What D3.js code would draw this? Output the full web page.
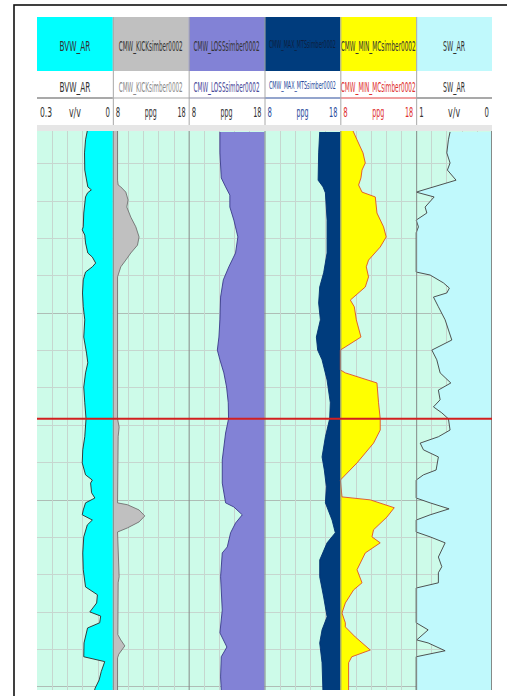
<!DOCTYPE html>
<html>
<head>
<meta charset="utf-8">
<script src="https://cdn.jsdelivr.net/npm/d3@7"></script>
<style>
body{margin:0;background:#fff}
svg{display:block}
text{font-family:"DejaVu Sans Condensed","Liberation Sans Narrow","Liberation Sans",sans-serif}
</style>
</head>
<body>
<svg id="chart" width="507" height="696"></svg>
<script>
// curve names, units, scale ends
var curveNames=["BVW_AR","CMW_KICKsimber0002","CMW_LOSSsimber0002","CMW_MAX_MTSsimber0002","CMW_MIN_MCsimber0002","SW_AR"];
var unitLabels=["v/v","ppg","ppg","ppg","ppg","v/v"];
var scaleLeft=[0.3,8,8,8,8,1];
var scaleRight=[0,18,18,18,18,0];
var leftLabels=["0.3","8","8","8","8","1"];
var rightLabels=["0","18","18","18","18","0"];
var depthRange=[1500,1651];
var markerDepth=1578.4;

// [depth, value]
var bvwAr=[[1501.3,0.101],[1503.7,0.108],[1507.2,0.112],[1511.8,0.111],[1516.3,0.099],[1517.1,0.085],[1517.9,0.100],[1519.0,0.108],[1523.3,0.115],[1527.0,0.117],[1527.8,0.121],[1529.2,0.111],[1531.3,0.108],[1534.0,0.099],[1535.1,0.081],[1536.7,0.068],[1537.7,0.081],[1539.1,0.108],[1541.2,0.117],[1544.7,0.120],[1548.4,0.117],[1551.9,0.111],[1556.5,0.115],[1560.8,0.104],[1563.4,0.099],[1566.1,0.108],[1569.9,0.115],[1574.1,0.111],[1578.4,0.106],[1583.2,0.111],[1586.7,0.119],[1590.2,0.121],[1593.4,0.108],[1594.8,0.081],[1595.6,0.088],[1598.2,0.084],[1599.6,0.071],[1600.9,0.108],[1602.8,0.117],[1604.1,0.121],[1605.5,0.081],[1606.8,0.101],[1610.0,0.115],[1614.3,0.119],[1618.8,0.117],[1623.4,0.108],[1625.5,0.061],[1627.7,0.064],[1630.1,0.091],[1631.2,0.048],[1633.0,0.052],[1634.4,0.100],[1638.4,0.114],[1642.1,0.115],[1643.4,0.032],[1646.1,0.046],[1648.3,0.054],[1650.5,0.070],[1651.0,0.072]];
var cmwKick=[[1501.3,8.62],[1514.5,8.62],[1515.8,8.70],[1516.3,9.05],[1517.7,9.71],[1519.8,10.01],[1521.7,9.84],[1524.4,10.37],[1527.0,11.03],[1529.7,11.46],[1531.9,11.25],[1534.0,10.37],[1535.9,9.71],[1537.7,9.05],[1540.4,8.62],[1578.4,8.62],[1580.6,8.83],[1583.2,8.70],[1600.9,8.62],[1601.4,9.93],[1602.8,11.46],[1604.4,12.21],[1606.0,11.46],[1607.6,9.93],[1608.7,8.62],[1620.7,8.83],[1622.3,8.70],[1636.2,8.66],[1637.6,9.05],[1639.2,9.58],[1641.4,8.79],[1642.4,8.62],[1651.0,8.62]];
var cmwLoss=[[1501.6,12.12],[1507.2,12.12],[1513.9,12.30],[1516.3,12.87],[1518.5,13.43],[1521.7,13.43],[1525.2,13.96],[1529.7,14.49],[1534.0,14.18],[1537.7,13.30],[1541.2,12.57],[1545.8,12.21],[1551.9,12.12],[1556.5,11.99],[1560.0,11.78],[1562.6,12.12],[1566.1,12.64],[1569.9,13.00],[1574.1,13.22],[1578.4,13.26],[1582.2,12.87],[1589.4,12.43],[1595.6,12.43],[1600.9,12.87],[1602.0,13.96],[1604.1,15.07],[1606.3,14.18],[1608.9,13.53],[1612.7,13.09],[1614.3,12.43],[1620.7,12.21],[1629.6,12.43],[1635.7,12.12],[1639.5,13.04],[1642.1,12.30],[1647.5,12.21],[1651.0,12.30]];
var cmwMax=[[1501.6,15.28],[1507.2,15.14],[1514.5,15.07],[1516.3,15.72],[1517.9,16.03],[1525.2,16.25],[1534.0,16.25],[1539.3,15.80],[1543.1,15.28],[1547.4,15.14],[1551.9,15.37],[1556.5,14.84],[1560.0,15.01],[1562.6,15.59],[1568.0,16.25],[1574.1,16.68],[1578.4,16.59],[1583.2,16.03],[1588.6,15.59],[1592.1,15.89],[1596.6,16.16],[1600.9,16.03],[1605.5,16.91],[1608.9,17.34],[1611.6,16.25],[1616.2,15.28],[1620.7,15.28],[1626.1,15.80],[1631.4,16.25],[1634.9,15.59],[1638.4,15.28],[1643.7,15.59],[1651.0,15.70]];
var cmwMin=[[1501.3,9.67],[1503.7,10.20],[1505.6,10.63],[1507.2,10.99],[1509.9,11.29],[1511.8,10.86],[1513.9,10.72],[1515.8,10.41],[1517.7,10.86],[1519.0,12.61],[1523.3,12.83],[1527.0,13.70],[1529.7,14.05],[1532.4,13.26],[1535.9,11.72],[1537.7,11.42],[1540.4,11.72],[1543.1,11.29],[1546.6,9.32],[1548.4,9.84],[1551.9,10.11],[1556.5,10.72],[1560.0,8.00],[1565.3,8.00],[1566.1,8.66],[1568.8,12.83],[1574.1,13.04],[1578.4,13.26],[1581.4,13.26],[1584.9,12.38],[1590.2,10.20],[1594.8,8.00],[1599.3,8.22],[1600.1,11.95],[1602.2,15.11],[1604.7,14.14],[1608.1,12.38],[1610.0,12.17],[1611.6,13.26],[1614.3,11.29],[1618.8,10.20],[1622.3,10.86],[1624.2,9.75],[1627.7,8.66],[1630.4,8.22],[1633.0,8.66],[1634.1,8.66],[1636.8,9.97],[1640.3,11.95],[1642.1,9.51],[1643.7,9.09],[1651.0,9.09]];
var swAr=[[1501.6,0.553],[1503.7,0.575],[1507.2,0.596],[1509.9,0.553],[1511.8,0.588],[1514.5,0.474],[1517.7,1.000],[1519.0,0.763],[1521.7,0.882],[1523.3,0.859],[1525.2,1.000],[1527.0,0.970],[1528.6,1.000],[1539.1,1.000],[1539.9,0.816],[1542.0,0.641],[1543.4,0.562],[1544.7,0.596],[1545.8,0.772],[1548.4,0.707],[1551.9,0.618],[1557.3,0.530],[1560.0,0.793],[1562.6,0.728],[1566.1,0.684],[1568.8,0.543],[1570.7,0.707],[1573.3,0.684],[1575.2,0.772],[1576.8,0.662],[1578.4,0.575],[1581.4,0.553],[1583.2,0.707],[1584.9,0.947],[1586.7,0.904],[1588.6,0.707],[1592.1,0.737],[1593.4,0.904],[1594.8,1.000],[1599.6,1.000],[1600.9,0.816],[1602.5,0.566],[1604.1,0.816],[1605.5,1.000],[1608.7,1.000],[1610.0,0.816],[1611.6,0.618],[1615.4,0.707],[1618.0,0.662],[1619.6,0.707],[1622.3,0.707],[1623.7,1.000],[1633.0,1.000],[1634.9,0.842],[1637.6,0.993],[1638.4,0.842],[1640.5,0.618],[1642.1,1.000],[1651.0,1.000]];

var curves=[bvwAr,cmwKick,cmwLoss,cmwMax,cmwMin,swAr];

// styling per track
var headFill=["#00ffff","#c0c0c0","#8282d6","#003c7d","#ffff00","#c0f9fc"];
var areaFill=["#00ffff","#c0c0c0","#8282d6","#003c7d","#ffff00","#c0f9fc"];
var lineColor=["#2a2a2a","#707070","#3a3a8a","#003070","#e0502a","#404040"];
var nameColor=["#333","#8a8a8a","#4a4a9a","#2a4c9c","#e03030","#333"];
var scaleColor=["#333","#333","#333","#2a4c9c","#e03030","#333"];
var ruleColor=["#555","#aaa","#8a8aa8","#2a4c9c","#e04040","#555"];
var fillSide=["right","left","right","right","left","right"];
var nameSize=[14,14,14,10,14,14];
var nameWidth=[31,64,66,67,75,22];

var svg=d3.select("#chart");
var plotTop=131, plotBottom=690;

var tracks=d3.scaleBand().domain(d3.range(6)).range([37,492]);
var bw=tracks.bandwidth();
var y=d3.scaleLinear().domain(depthRange).range([126,690]);

// squeeze a text horizontally to a given width (narrow header font look)
function squeeze(sel,x,yy,w){
  sel.each(function(d,i){
    var n=this.getComputedTextLength();
    var s=n>0?w(d)/n:1;
    d3.select(this).attr("transform","translate("+x(d)+","+yy(d)+") scale("+s+",1)");
  });
}

// outer frame
svg.append("rect").attr("x",14).attr("y",5).attr("width",520).attr("height",720)
  .attr("fill","none").attr("stroke","#111").attr("stroke-width",1.6);

// header rows
var head=svg.append("g");
head.selectAll("rect.h1").data(d3.range(6)).enter().append("rect")
  .attr("x",function(i){return tracks(i)}).attr("y",17).attr("width",bw).attr("height",54)
  .attr("fill",function(i){return headFill[i]});

var n1=head.selectAll("text.n1").data(d3.range(6)).enter().append("text")
  .attr("text-anchor","middle").attr("font-size",function(i){return nameSize[i]})
  .attr("fill",function(i){return i==3?"#0d1f40":"#333"})
  .text(function(i){return curveNames[i]});
squeeze(n1,function(i){return tracks(i)+bw/2},function(i){return nameSize[i]<12?48:51},function(i){return nameWidth[i]});

var n2=head.selectAll("text.n2").data(d3.range(6)).enter().append("text")
  .attr("text-anchor","middle").attr("font-size",function(i){return nameSize[i]})
  .attr("fill",function(i){return nameColor[i]})
  .text(function(i){return curveNames[i]});
squeeze(n2,function(i){return tracks(i)+bw/2},function(i){return nameSize[i]<12?89:92},function(i){return nameWidth[i]});

head.selectAll("line.rule").data(d3.range(6)).enter().append("line")
  .attr("x1",function(i){return tracks(i)}).attr("x2",function(i){return tracks(i)+bw})
  .attr("y1",98).attr("y2",98).attr("stroke",function(i){return ruleColor[i]}).attr("stroke-width",1.2);

function labelW(s){return s.length*3.9+0.5}
var tl=head.selectAll("text.l").data(d3.range(6)).enter().append("text")
  .attr("font-size",14)
  .attr("fill",function(i){return scaleColor[i]}).text(function(i){return leftLabels[i]});
squeeze(tl,function(i){return tracks(i)+3},function(){return 117},function(i){return labelW(leftLabels[i])});
var tr=head.selectAll("text.r").data(d3.range(6)).enter().append("text")
  .attr("font-size",14).attr("text-anchor","end")
  .attr("fill",function(i){return scaleColor[i]}).text(function(i){return rightLabels[i]});
squeeze(tr,function(i){return tracks(i)+bw-3},function(){return 117},function(i){return labelW(rightLabels[i])});
var tu=head.selectAll("text.u").data(d3.range(6)).enter().append("text")
  .attr("font-size",14).attr("text-anchor","middle")
  .attr("fill",function(i){return scaleColor[i]}).text(function(i){return unitLabels[i]});
squeeze(tu,function(i){return tracks(i)+bw/2},function(){return 117},function(){return 12});

// header separators
head.selectAll("line.sep").data(d3.range(1,6)).enter().append("line")
  .attr("x1",function(i){return tracks(i)+0.5}).attr("x2",function(i){return tracks(i)+0.5})
  .attr("y1",17).attr("y2",125).attr("stroke","#a8a8a8");

// plot background
svg.append("clipPath").attr("id","plotclip").append("rect")
  .attr("x",37).attr("y",plotTop).attr("width",455).attr("height",plotBottom-plotTop);
svg.append("rect").attr("x",37).attr("y",125).attr("width",455).attr("height",plotTop-125).attr("fill","#e6e6e6");
var plot=svg.append("g").attr("clip-path","url(#plotclip)");
plot.append("rect").attr("x",37).attr("y",plotTop).attr("width",455).attr("height",plotBottom-plotTop).attr("fill","#cdfbe9");

// grid
var depthTicks=d3.range(depthRange[0],depthRange[1]+1,10);
plot.selectAll("line.hg").data(depthTicks).enter().append("line")
  .attr("x1",37).attr("x2",492).attr("y1",function(d){return Math.round(y(d))+0.5}).attr("y2",function(d){return Math.round(y(d))+0.5})
  .attr("stroke",function(d){return d%50==0?"#aebdb6":"#c6d6cf"}).attr("stroke-width",1);

d3.range(6).forEach(function(i){
  var x0=tracks(i);
  var xs=d3.scaleLinear().domain([scaleLeft[i],scaleRight[i]]).range([x0,x0+bw]);
  var gx=d3.range(1,5).map(function(k){return scaleLeft[i]+(scaleRight[i]-scaleLeft[i])*k/5});
  plot.selectAll("line.vg"+i).data(gx).enter().append("line")
    .attr("x1",function(v){return Math.round(xs(v))+0.5}).attr("x2",function(v){return Math.round(xs(v))+0.5})
    .attr("y1",plotTop).attr("y2",plotBottom).attr("stroke","#c6d6cf");
});

// fills and curves
d3.range(6).forEach(function(i){
  var x0=tracks(i), x1=x0+bw;
  var xs=d3.scaleLinear().domain([scaleLeft[i],scaleRight[i]]).range([x0,x1]);
  var area=d3.area().y(function(d){return y(d[0])});
  if(fillSide[i]=="right"){area.x0(function(d){return xs(d[1])}).x1(x1)}
  else{area.x0(x0).x1(function(d){return xs(d[1])})}
  plot.append("path").datum(curves[i]).attr("d",area).attr("fill",areaFill[i]);
  var line=d3.line().x(function(d){return xs(d[1])}).y(function(d){return y(d[0])});
  plot.append("path").datum(curves[i]).attr("d",line).attr("fill","none")
    .attr("stroke",lineColor[i]).attr("stroke-width",0.9);
});

// track borders
plot.selectAll("line.tb").data(d3.range(1,7)).enter().append("line")
  .attr("x1",function(i){return i<6?tracks(i)+0.5:491.5}).attr("x2",function(i){return i<6?tracks(i)+0.5:491.5})
  .attr("y1",plotTop).attr("y2",plotBottom).attr("stroke","#858a88");

// marker line
plot.append("line").attr("x1",37).attr("x2",492).attr("y1",y(markerDepth)).attr("y2",y(markerDepth))
  .attr("stroke","#d21f1f").attr("stroke-width",2);
</script>
</body>
</html>
